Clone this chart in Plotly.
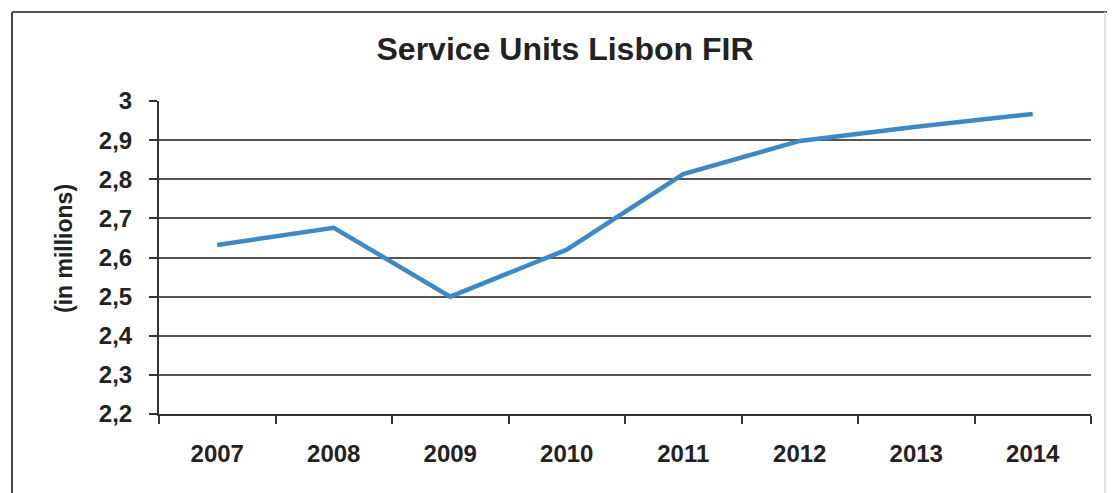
import plotly.graph_objects as go

years = ["2007", "2008", "2009", "2010", "2011", "2012", "2013", "2014"]
service_units = [2.632, 2.676, 2.50, 2.62, 2.813, 2.898, 2.934, 2.967]
y_ticks = [2.2, 2.3, 2.4, 2.5, 2.6, 2.7, 2.8, 2.9, 3.0]
y_tick_labels = ["2,2", "2,3", "2,4", "2,5", "2,6", "2,7", "2,8", "2,9", "3"]

OFF = 8  # default page body margin
W, H = 1115 - OFF, 493 - OFF
# plot area in screen pixels
left, right, top, bottom = 159, 1091, 101, 414
ml, mt = left - OFF, top - OFF
mr, mb = W - (right - OFF), H - (bottom - OFF)
pw, ph = right - left, bottom - top

def px_x(p):
    return (p - left) / pw

def px_y(p):
    return (bottom - p) / ph

font_family = "Liberation Sans, Arial, sans-serif"
txt = "#222"

fig = go.Figure()
fig.add_trace(go.Scatter(
    x=years, y=service_units, mode="lines",
    line=dict(color="#3c89c6", width=4.5),
    showlegend=False, hoverinfo="x+y",
))

fig.update_layout(
    width=W, height=H,
    margin=dict(l=ml, r=mr, t=mt, b=mb, autoexpand=False),
    paper_bgcolor="white", plot_bgcolor="white",
    title=dict(text="<b>Service Units Lisbon FIR</b>", xref="paper",
               x=px_x(565), xanchor="center",
               y=1 - (49 - OFF) / H, yanchor="middle",
               font=dict(family=font_family, size=32, color=txt)),
    xaxis=dict(
        type="category", range=[-0.5, len(years) - 0.5],
        tickson="boundaries", ticks="outside", ticklen=8,
        tickcolor="#333", tickwidth=2, ticklabelstandoff=17,
        showline=True, linecolor="#333", linewidth=2,
        showgrid=False, zeroline=False, automargin=False,
        tickfont=dict(family=font_family, size=24, color=txt, weight="bold"),
        title=None,
    ),
    yaxis=dict(
        range=[2.2, 3.0], tickvals=y_ticks, ticktext=y_tick_labels,
        ticks="outside", ticklen=8, tickcolor="#333", tickwidth=2,
        ticklabelstandoff=12,
        showline=True, linecolor="#333", linewidth=2,
        showgrid=True, gridcolor="#555", gridwidth=2, zeroline=False,
        automargin=False,
        tickfont=dict(family=font_family, size=24, color=txt, weight="bold"),
        title=None,
    ),
)

# y-axis title
fig.add_annotation(text="<b>(in millions)</b>", xref="paper", yref="paper",
                   x=px_x(64), y=px_y(249), textangle=-90, showarrow=False,
                   xanchor="center", yanchor="middle",
                   font=dict(family=font_family, size=23, color=txt))

# outer frame of the chart
fig.add_shape(type="line", xref="paper", yref="paper",
              x0=px_x(12), x1=px_x(12), y0=px_y(12), y1=px_y(520),
              line=dict(color="#444", width=2))
fig.add_shape(type="line", xref="paper", yref="paper",
              x0=px_x(12), x1=px_x(1115), y0=px_y(12), y1=px_y(12),
              line=dict(color="#555", width=2))
fig.add_shape(type="line", xref="paper", yref="paper",
              x0=px_x(1105), x1=px_x(1105), y0=px_y(12), y1=px_y(520),
              line=dict(color="#ddd", width=1.5))

fig.write_html("out.html")
